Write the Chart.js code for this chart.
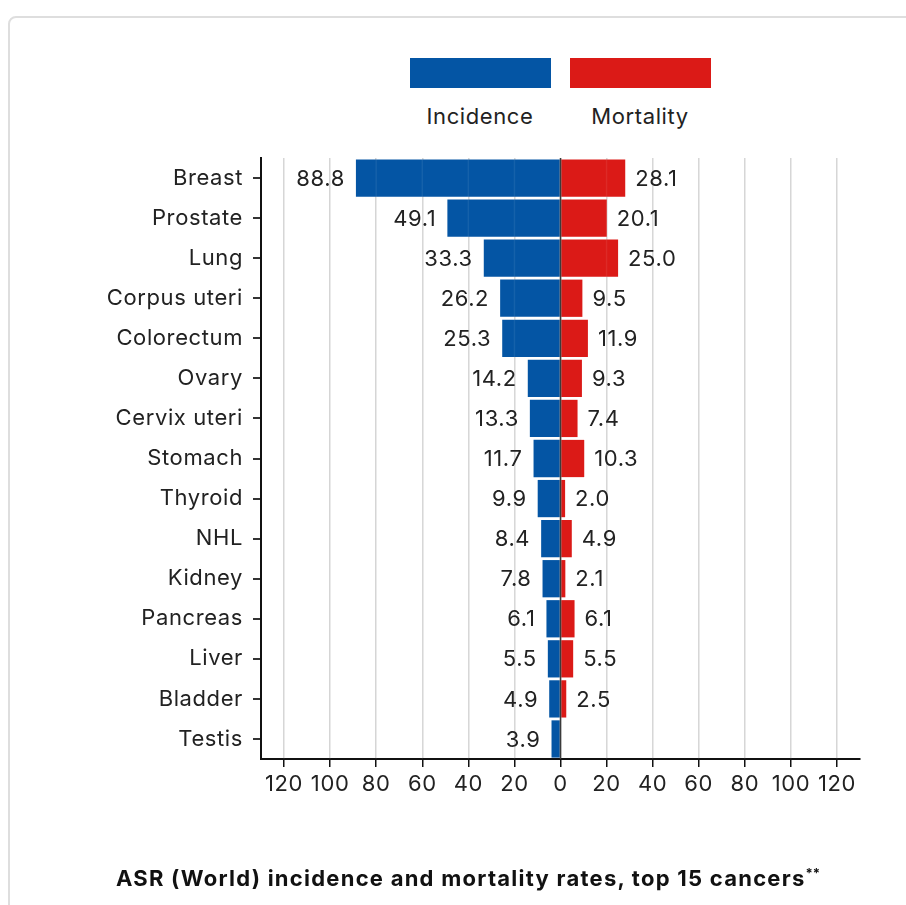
<!DOCTYPE html>
<html>
<head>
<meta charset="utf-8">
<script src="https://cdn.jsdelivr.net/npm/chart.js@4.4.1/dist/chart.umd.min.js"></script>
<style>
  html, body { margin: 0; padding: 0; background: #fff; overflow: hidden; }
  body { width: 906px; height: 905px; position: relative; font-family: Inter, "Noto Sans", sans-serif; color: #222; }
  .card { position: absolute; left: 8px; top: 16px; width: 1000px; height: 1000px; border: 2px solid #dedede; border-radius: 8px; box-sizing: border-box; }
  .legend-box { position: absolute; top: 58px; width: 141px; height: 30px; }
  .legend-label { position: absolute; top: 103px; width: 180px; text-align: center; font-size: 22px; letter-spacing: 0.6px; }
  .title { position: absolute; left: 0; width: 936px; top: 865px; text-align: center; font-size: 22px; font-weight: 700; color: #111; letter-spacing: 1.25px; }
  .title sup { font-size: 13px; letter-spacing: 0; }
  #wrap { position: absolute; left: 0; top: 0; width: 906px; height: 905px; }
</style>
</head>
<body>
<div class="card"></div>
<div class="legend-box" style="left:410px;background:#0455a4"></div>
<div class="legend-box" style="left:570px;background:#db1a17"></div>
<div class="legend-label" style="left:390px">Incidence</div>
<div class="legend-label" style="left:550px">Mortality</div>
<div id="wrap"><canvas id="chart"></canvas></div>
<div class="title">ASR (World) incidence and mortality rates, top 15 cancers<sup>**</sup></div>
<script>
const cancers = ["Breast", "Prostate", "Lung", "Corpus uteri", "Colorectum", "Ovary", "Cervix uteri",
  "Stomach", "Thyroid", "NHL", "Kidney", "Pancreas", "Liver", "Bladder", "Testis"];
const incidence = [88.8, 49.1, 33.3, 26.2, 25.3, 14.2, 13.3, 11.7, 9.9, 8.4, 7.8, 6.1, 5.5, 4.9, 3.9];
const mortality = [28.1, 20.1, 25.0, 9.5, 11.9, 9.3, 7.4, 10.3, 2.0, 4.9, 2.1, 6.1, 5.5, 2.5, null];
const xTicks = [-120, -100, -80, -60, -40, -20, 0, 20, 40, 60, 80, 100, 120];

const BLUE = "#0455a4";
const RED = "#db1a17";
const FONT = "Inter, 'Noto Sans', sans-serif";
const SPACING = "0.6px";

// wider text, closer to the original typeface
const spacing = {
  id: "spacing",
  beforeLayout(chart) { chart.ctx.letterSpacing = SPACING; },
  beforeDraw(chart) { chart.ctx.letterSpacing = SPACING; },
};

// value labels next to the bar ends, zero line and faint grid over the bars
const valueLabels = {
  id: "valueLabels",
  afterDatasetsDraw(chart) {
    const ctx = chart.ctx;
    const x = chart.scales.x;
    const area = chart.chartArea;
    ctx.save();
    ctx.strokeStyle = "rgba(255,255,255,0.07)";
    ctx.lineWidth = 1.5;
    xTicks.forEach((t) => {
      if (t === 0) return;
      const px = x.getPixelForValue(t);
      ctx.beginPath();
      ctx.moveTo(px, area.top);
      ctx.lineTo(px, area.bottom);
      ctx.stroke();
    });
    const zx = x.getPixelForValue(0);
    ctx.strokeStyle = "#3a3a3a";
    ctx.lineWidth = 1.5;
    ctx.beginPath();
    ctx.moveTo(zx, area.top);
    ctx.lineTo(zx, area.bottom);
    ctx.stroke();

    ctx.letterSpacing = SPACING;
    ctx.font = "22px " + FONT;
    ctx.fillStyle = "#222";
    ctx.textBaseline = "middle";
    chart.data.datasets.forEach((ds, di) => {
      const meta = chart.getDatasetMeta(di);
      meta.data.forEach((bar, i) => {
        const raw = di === 0 ? incidence[i] : mortality[i];
        if (raw == null) return;
        const txt = raw.toFixed(1);
        if (di === 0) {
          ctx.textAlign = "right";
          ctx.fillText(txt, bar.x - 11, bar.y + 1);
        } else {
          ctx.textAlign = "left";
          ctx.fillText(txt, bar.x + 10, bar.y + 1);
        }
      });
    });
    ctx.restore();
  }
};

new Chart(document.getElementById("chart"), {
  type: "bar",
  data: {
    labels: cancers,
    datasets: [
      {
        label: "Incidence",
        data: incidence.map((v) => -v),
        backgroundColor: BLUE,
        barPercentage: 0.93,
        categoryPercentage: 1.0,
      },
      {
        label: "Mortality",
        data: mortality,
        backgroundColor: RED,
        barPercentage: 0.93,
        categoryPercentage: 1.0,
      },
    ],
  },
  options: {
    indexAxis: "y",
    responsive: true,
    maintainAspectRatio: false,
    animation: false,
    layout: { padding: { top: 158, right: 46, left: 0, bottom: 106 } },
    plugins: {
      legend: { display: false },
      tooltip: { enabled: false },
    },
    scales: {
      x: {
        stacked: true,
        min: -130,
        max: 130,
        afterBuildTicks: (scale) => {
          scale.ticks = xTicks.map((v) => ({ value: v }));
        },
        afterFit: (scale) => { scale.height = 40; },
        border: { display: true, color: "#111", width: 2 },
        grid: {
          color: "#d4d4d4",
          lineWidth: 1.5,
          tickColor: "#111",
          tickLength: 8,
        },
        ticks: {
          color: "#222",
          font: { family: FONT, size: 22 },
          padding: 4,
          maxRotation: 0,
          autoSkip: false,
          callback: (v) => Math.abs(v),
        },
      },
      y: {
        stacked: true,
        afterFit: (scale) => { scale.width = 261; },
        border: { display: true, color: "#111", width: 2 },
        grid: {
          offset: false,
          drawOnChartArea: false,
          tickColor: "#333",
          tickLength: 8,
          lineWidth: 2,
        },
        ticks: {
          color: "#222",
          font: { family: FONT, size: 22 },
          padding: 10,
        },
      },
    },
  },
  plugins: [spacing, valueLabels],
});
</script>
</body>
</html>
